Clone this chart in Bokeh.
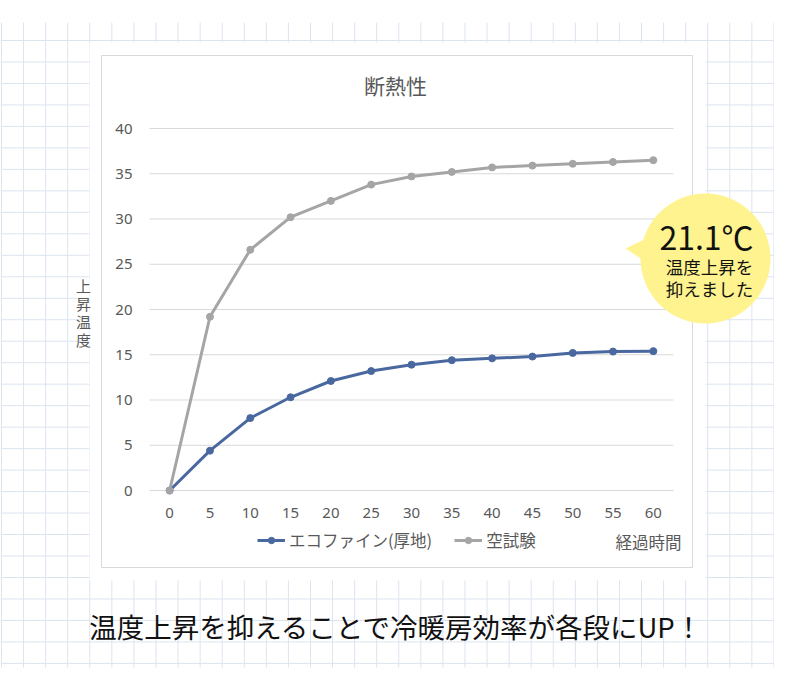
from bokeh.plotting import figure
from bokeh.models import Range1d, Legend, LegendItem
from bokeh.core.properties import value
from bokeh.embed import file_html
from bokeh.resources import INLINE

# ---- data ----
minutes = [0, 5, 10, 15, 20, 25, 30, 35, 40, 45, 50, 55, 60]
eco = [0, 4.4, 8.0, 10.3, 12.1, 13.2, 13.9, 14.4, 14.6, 14.8, 15.2, 15.35, 15.4]
blank = [0, 19.2, 26.6, 30.2, 32.0, 33.8, 34.7, 35.2, 35.7, 35.9, 36.1, 36.3, 36.5]
y_ticks = [0, 5, 10, 15, 20, 25, 30, 35, 40]
series_names = ["エコファイン(厚地)", "空試験"]
title_text = "断熱性"
x_title = "経過時間"
y_title = "上\n昇\n温\n度"
callout_big = "21.1℃"
callout_small = ["温度上昇を", "抑えました"]
footer = "温度上昇を抑えることで冷暖房効率が各段にUP！"

JP = value("Noto Sans CJK JP")
NUM = value("Noto Sans")
GRAY_TXT = "#595959"
BLUE = "#4A68A0"
GRAY = "#A5A5A5"

# ---- layout (picture pixel coordinates) ----
W, H = 774, 674
PX0, PY0 = 0, 0
pa_left, pa_right, pa_top, pa_bottom = 149, 673, 128, 490
dx0, dx1 = -2.5, 62.5
dy0, dy1 = 0, 40
sx = (dx1 - dx0) / (pa_right - pa_left)
sy = (dy1 - dy0) / (pa_bottom - pa_top)
x_start = dx0 - (pa_left - PX0) * sx
x_end = dx1 + (PX0 + W - pa_right) * sx
y_start = dy0 - (PY0 + H - pa_bottom) * sy
y_end = dy1 + (pa_top - PY0) * sy

p = figure(width=W, height=H, x_range=Range1d(x_start, x_end), y_range=Range1d(y_start, y_end),
           output_backend="svg", toolbar_location=None, x_axis_location=None,
           y_axis_location=None, min_border=0)
p.extra_x_ranges = {"px": Range1d(PX0, PX0 + W)}
p.extra_y_ranges = {"px": Range1d(PY0 + H, PY0)}
p.xgrid.visible = False
p.ygrid.visible = False
p.outline_line_color = None
p.background_fill_color = "white"
p.border_fill_color = "white"

PXR = dict(x_range_name="px", y_range_name="px")

# grid-paper background
GRID_C = "#DCE4F0"
vx = [1 + 22.07 * k for k in range(0, 37)]
p.segment(x0=vx, x1=vx, y0=[22] * len(vx), y1=[667] * len(vx), line_color=GRID_C, line_width=1, **PXR)
hy = [40 + 21.48 * k for k in range(0, 30)]
p.segment(x0=[0] * len(hy), x1=[790] * len(hy), y0=hy, y1=hy, line_color=GRID_C, line_width=1, **PXR)
p.quad(left=[89], right=[705], top=[42], bottom=[580], fill_color="white", line_color=None, **PXR)

# chart area box
p.quad(left=[101], right=[692], top=[55], bottom=[567], fill_color="white",
       line_color="#D9D9D9", line_width=1, **PXR)

# horizontal gridlines (data scale)
p.segment(x0=[dx0] * len(y_ticks), x1=[dx1] * len(y_ticks), y0=y_ticks, y1=y_ticks,
          line_color="#D9D9D9", line_width=1)

# series
lb = p.line(minutes, eco, line_color=BLUE, line_width=3)
sb = p.scatter(minutes, eco, size=7, fill_color=BLUE, line_color=BLUE)
lg = p.line(minutes, blank, line_color=GRAY, line_width=3)
sg = p.scatter(minutes, blank, size=7, fill_color=GRAY, line_color=GRAY)

# tick labels
p.text(x=minutes, y=[512] * len(minutes), text=[str(m) for m in minutes], y_range_name="px",
       text_align="center", text_baseline="middle", text_font=NUM, text_font_size="15px",
       text_color=GRAY_TXT)
p.text(x=[132] * len(y_ticks), y=y_ticks, text=[str(t) for t in y_ticks], x_range_name="px",
       text_align="right", text_baseline="middle", text_font=NUM, text_font_size="15px",
       text_color=GRAY_TXT)

# titles
p.text(x=[395], y=[84], text=[title_text], text_align="center", text_baseline="middle",
       text_font=JP, text_font_size="21px", text_color=GRAY_TXT, **PXR)
p.text(x=[681], y=[541], text=[x_title], text_align="right", text_baseline="middle",
       text_font=JP, text_font_size="16.5px", text_color=GRAY_TXT, **PXR)
p.text(x=[83], y=[312], text=[y_title], text_align="center", text_baseline="middle",
       text_font=JP, text_font_size="15px", text_color=GRAY_TXT, text_line_height=0.85, **PXR)

# legend
legend = Legend(items=[LegendItem(label=series_names[0], renderers=[lb, sb]),
                       LegendItem(label=series_names[1], renderers=[lg, sg])],
                orientation="horizontal", location=(257, 122), padding=0, margin=0,
                spacing=22, glyph_width=28, glyph_height=16, label_standoff=4,
                label_text_font="Noto Sans CJK JP", label_text_font_size="16.5px",
                label_text_color=GRAY_TXT, border_line_color=None, background_fill_alpha=0)
p.add_layout(legend)

# callout bubble
YEL = "#FFF38F"
p.patch(x=[625, 646, 646], y=[248, 238, 262], fill_color=YEL, line_color=None, **PXR)
p.ellipse(x=[705], y=[258], width=130, height=130, fill_color=YEL, line_color=None, **PXR)
p.text(x=[706], y=[235], text=[callout_big], text_align="center", text_baseline="middle",
       text_font=JP, text_font_size="32px", text_color="#111111", **PXR)
p.text(x=[709, 709], y=[266, 288], text=callout_small, text_align="center", text_baseline="middle",
       text_font=JP, text_font_size="17.5px", text_color="#111111", **PXR)

# footer
p.text(x=[396], y=[625], text=[footer], text_align="center", text_baseline="middle",
       text_font=JP, text_font_size="27.5px", text_color="#111111", **PXR)

open("out.html", "w").write(file_html(p, INLINE))
